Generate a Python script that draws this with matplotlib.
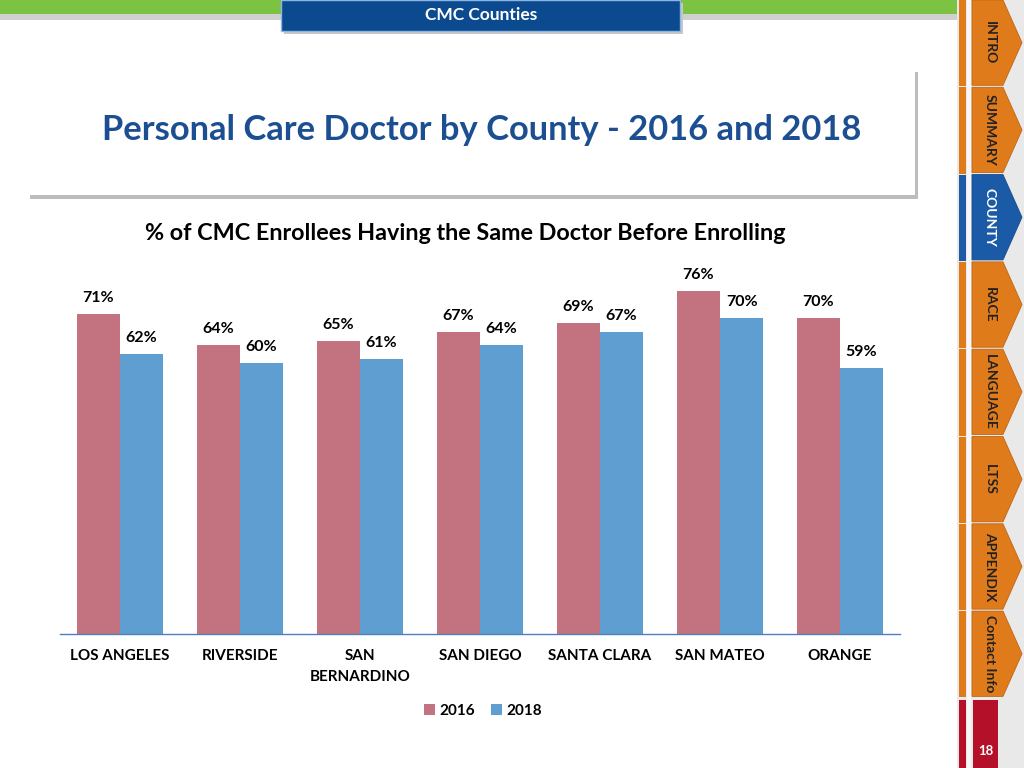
import matplotlib
matplotlib.use('Agg')
import numpy as np
import matplotlib.pyplot as plt
from matplotlib.patches import Rectangle, Polygon

# chart data
counties = ['LOS ANGELES', 'RIVERSIDE', 'SAN\nBERNARDINO', 'SAN DIEGO',
            'SANTA CLARA', 'SAN MATEO', 'ORANGE']
pct_2016 = [71, 64, 65, 67, 69, 76, 70]
pct_2018 = [62, 60, 61, 64, 67, 70, 59]
years = ['2016', '2018']

# slide furniture
tabs = ['INTRO', 'SUMMARY', 'COUNTY', 'RACE', 'LANGUAGE', 'LTSS', 'APPENDIX', 'Contact Info']
active_tab = 'COUNTY'
page_no = '18'

pink = '#C3737F'
blue = '#5F9ED1'
orange = '#E07B1C'
navy = '#1C4F91'

plt.rcParams['font.family'] = ['Lato', 'DejaVu Sans']
plt.rcParams['font.weight'] = 'bold'

W, H = 1024, 768
fig = plt.figure(figsize=(10.24, 7.68), dpi=100)


def px(x, y):
    # pixel position (from top-left) -> figure fraction
    return x / W, 1 - y / H


def box(x0, y0, x1, y1, **kw):
    fig.patches.append(Rectangle(px(x0, y1), (x1 - x0) / W, (y1 - y0) / H,
                                 transform=fig.transFigure, **kw))


# top green bar + header box
box(0, 14, 957, 20, color='#D0D0D0', lw=0)
box(0, 0, 957, 14, color='#7CC243', lw=0)
box(284, 3, 683, 34, color='#C8C8C8', lw=0)
box(281, 0, 680, 31, facecolor='#0B4A8F', edgecolor='#8DB6E3', lw=1)
fig.text(*px(481, 15), 'CMC Counties', color='white', fontsize=12.5,
         ha='center', va='center')

# title box with shadow
box(30, 72, 918, 199, color='#BDBDBD', lw=0)
box(24, 60, 915, 195, color='white', lw=0)
fig.text(*px(102, 130), 'Personal Care Doctor by County - 2016 and 2018',
         color=navy, fontsize=24.8, ha='left', va='center')

# right side navigation
box(957, 0, 1024, 768, color='#E9E9E9', lw=0)
box(967, 0, 971, 768, color='#F7F7F7', lw=0)
tab_h = 87.3
for i, name in enumerate(tabs):
    top = i * tab_h
    bot = top + tab_h - 2
    mid = (top + bot) / 2
    fc = '#1B5AA6' if name == active_tab else orange
    box(959, top, 966, bot + 1, color=fc, lw=0)
    pts = [px(972, top), px(1003, top), px(1022, mid), px(1003, bot), px(972, bot)]
    fig.patches.append(Polygon(pts, closed=True, transform=fig.transFigure,
                               facecolor=fc, edgecolor='#C06515' if fc == orange else '#174B8A',
                               lw=0.6))
    fig.text(*px(990, mid), name, rotation=270, fontsize=10,
             color='white' if name == active_tab else '#222222',
             ha='center', va='center', rotation_mode='anchor')
box(959, 700, 966, 768, color='#B5102A', lw=0)
box(973, 700, 998, 768, color='#B5102A', lw=0)
fig.text(*px(986, 751), page_no, color='white', fontsize=9.5, ha='center', va='center')

# chart subtitle
fig.text(*px(465, 234), '% of CMC Enrollees Having the Same Doctor Before Enrolling',
         fontsize=16.8, ha='center', va='center', color='black')

# bar chart
ax = fig.add_axes([60 / W, 134 / H, 840 / W, 361 / H])
x = np.arange(len(counties))
w = 0.36
b1 = ax.bar(x - w / 2, pct_2016, w, color=pink, label=years[0])
b2 = ax.bar(x + w / 2, pct_2018, w, color=blue, label=years[1])
for bars, vals in ((b1, pct_2016), (b2, pct_2018)):
    for r, v in zip(bars, vals):
        ax.annotate(f'{v}%', (r.get_x() + r.get_width() / 2, v),
                    xytext=(0, 11.5), textcoords='offset points',
                    ha='center', va='center', fontsize=11.5)

ax.set_xlim(-0.5, len(counties) - 0.5)
ax.set_ylim(0, 80)
ax.set_yticks([])
ax.set_xticks(x)
ax.set_xticklabels(counties, fontsize=11, linespacing=1.6)
ax.tick_params(axis='x', length=0, pad=11)
for s in ['top', 'left', 'right']:
    ax.spines[s].set_visible(False)
ax.spines['bottom'].set_color('#4F81BD')
ax.spines['bottom'].set_linewidth(1)
ax.set_facecolor('none')

ax.legend(loc='center', bbox_to_anchor=(px(483, 711)), bbox_transform=fig.transFigure,
          ncol=2, frameon=False, fontsize=11, handlelength=0.75, handleheight=0.75,
          handletextpad=0.3, columnspacing=1.0)

fig.savefig('out.png', dpi=100)
